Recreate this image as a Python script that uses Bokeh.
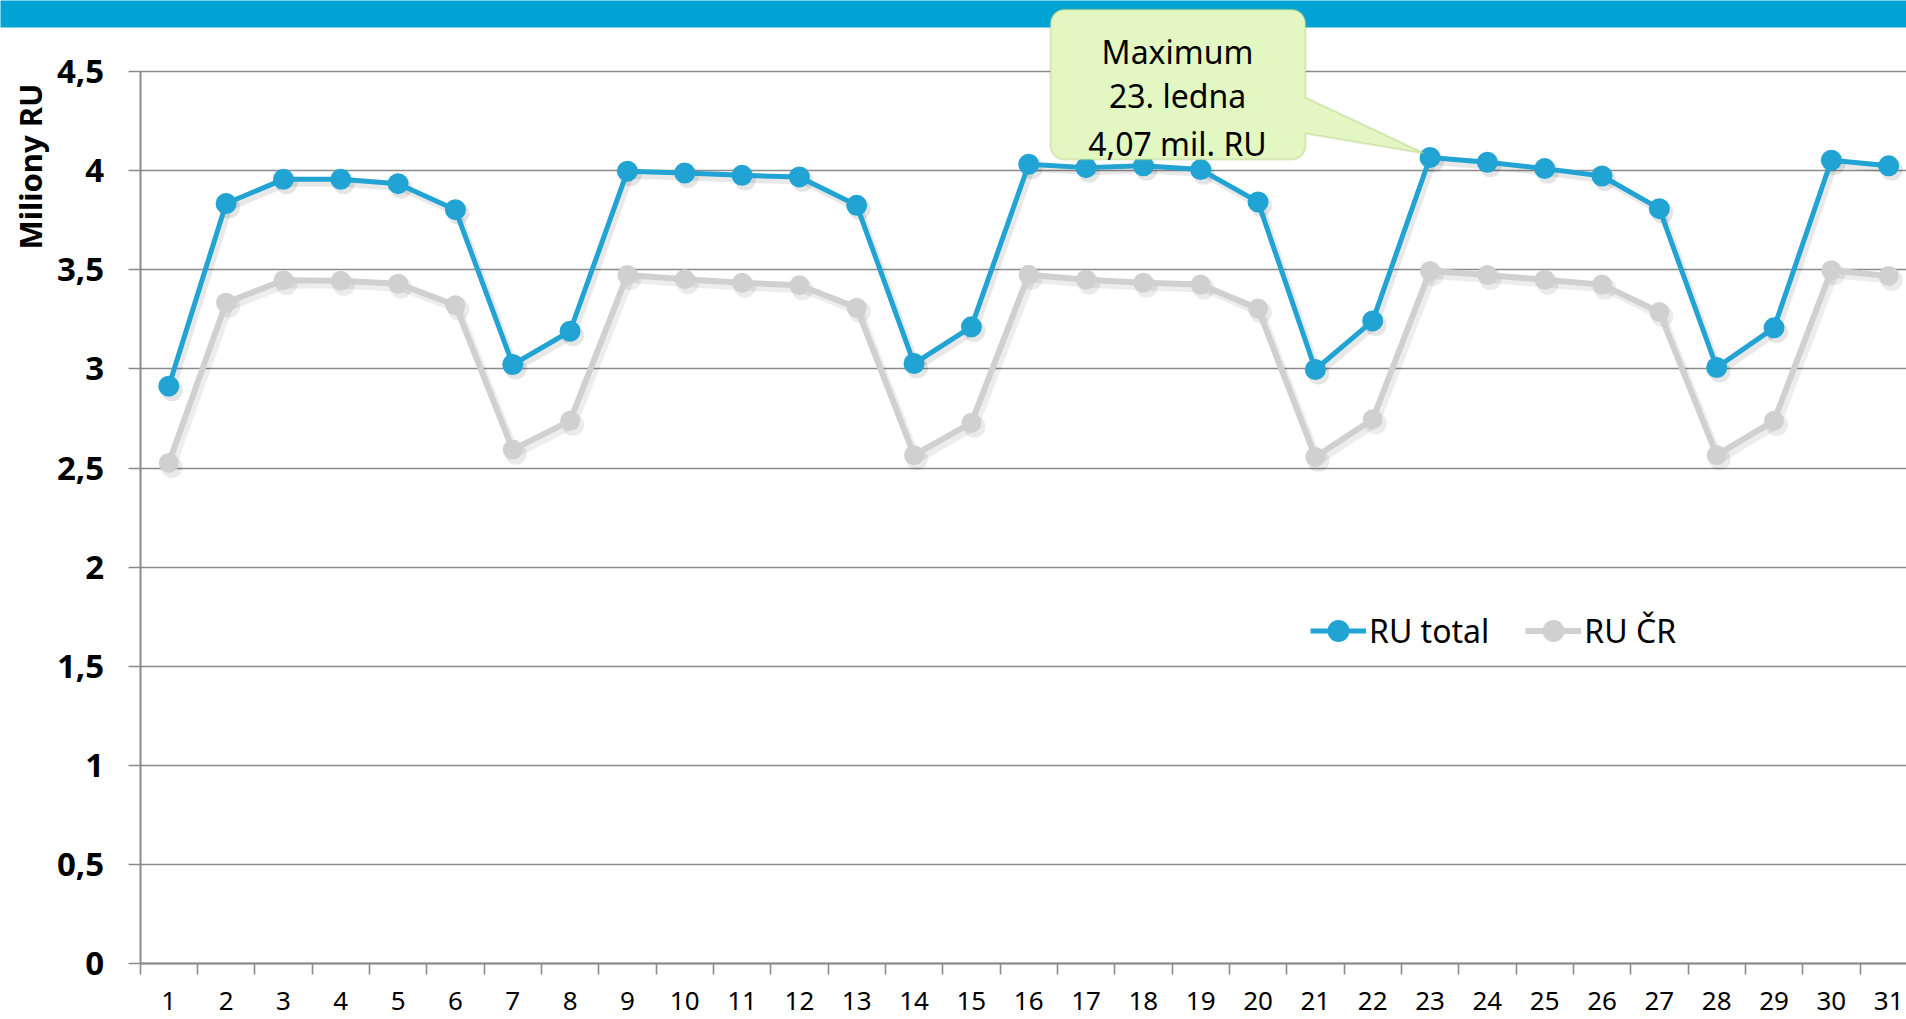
import numpy as np
from bokeh.plotting import figure
from bokeh.models import (FixedTicker, Range1d, BoxAnnotation, PolyAnnotation,
                          Label, Legend, LegendItem)
from bokeh.embed import file_html
from bokeh.resources import INLINE

# ---------------- data ----------------
days = list(range(1, 32))
ru_total = [2.913, 3.834, 3.956, 3.956, 3.934, 3.803, 3.022, 3.190, 3.997, 3.988,
            3.976, 3.968, 3.825, 3.027, 3.212, 4.032, 4.015, 4.024, 4.005, 3.842,
            2.997, 3.242, 4.066, 4.042, 4.010, 3.973, 3.808, 3.007, 3.207, 4.052, 4.024]
ru_cr = [2.526, 3.334, 3.447, 3.444, 3.430, 3.321, 2.593, 2.738, 3.474, 3.452,
         3.434, 3.422, 3.309, 2.565, 2.728, 3.475, 3.450, 3.435, 3.425, 3.304,
         2.556, 2.746, 3.494, 3.473, 3.450, 3.425, 3.287, 2.565, 2.738, 3.497, 3.469]
series_names = ["RU total", "RU ČR"]
y_ticks = [0, 0.5, 1, 1.5, 2, 2.5, 3, 3.5, 4, 4.5]
y_tick_labels = ["0", "0,5", "1", "1,5", "2", "2,5", "3", "3,5", "4", "4,5"]
y_title = "Miliony RU"

# ---------------- geometry (canvas px) ----------------
W, H = 1906, 1019
AXIS_X_PX = 139.6          # canvas x of the y axis (x = 0.5)
PX_PER_UNIT_X = 57.33
ZERO_PX = 963.3            # canvas y of value 0
PX_PER_UNIT_Y = 198.3
X0 = 0.5 - AXIS_X_PX / PX_PER_UNIT_X
X1 = 0.5 + (W - AXIS_X_PX) / PX_PER_UNIT_X
Y1 = ZERO_PX / PX_PER_UNIT_Y
Y0 = -(H - ZERO_PX) / PX_PER_UNIT_Y


def dx(px):
    return X0 + px / W * (X1 - X0)


def dy(py):
    return Y1 - py / H * (Y1 - Y0)


ux = (X1 - X0) / W
uy = (Y1 - Y0) / H

BLUE = "#21A3D3"
GREY = "#D0D0D0"
GRID = "#8A8A8A"
FONT = "Noto Sans"

p = figure(width=W, height=H, output_backend="svg", toolbar_location=None,
           x_range=Range1d(X0, X1), y_range=Range1d(Y0, Y1),
           min_border_left=0, min_border_right=0, min_border_top=0,
           min_border_bottom=0, outline_line_color=None,
           background_fill_color="white", border_fill_color="white")

# grid
p.xgrid.visible = False
p.ygrid.ticker = FixedTicker(ticks=y_ticks)
p.ygrid.grid_line_color = GRID
p.ygrid.grid_line_width = 1.6
p.ygrid.cross_bounds = (0.5, X1 + 1)

# x axis
xa = p.xaxis[0]
xa.fixed_location = 0
xa.bounds = (0.5, X1 + 1)
xa.ticker = FixedTicker(ticks=days, minor_ticks=[d - 0.5 for d in days] + [days[-1] + 0.5])
xa.major_tick_out = 0
xa.major_tick_in = 0
xa.minor_tick_out = 11
xa.minor_tick_in = 0
xa.minor_tick_line_color = GRID
xa.minor_tick_line_width = 1.6
xa.axis_line_color = GRID
xa.axis_line_width = 2
xa.major_label_text_font = FONT
xa.major_label_text_font_size = "26px"
xa.major_label_text_color = "black"
xa.major_label_standoff = 17

# y axis
ya = p.yaxis[0]
ya.fixed_location = 0.5
ya.ticker = FixedTicker(ticks=y_ticks, minor_ticks=[])
ya.bounds = (0, 4.5)
ya.major_label_overrides = {t: l for t, l in zip(y_ticks, y_tick_labels)}
ya.major_tick_out = 12
ya.major_tick_in = 0
ya.major_tick_line_color = GRID
ya.major_tick_line_width = 1.6
ya.axis_line_color = GRID
ya.axis_line_width = 2
ya.major_label_text_font = FONT
ya.major_label_text_font_style = "bold"
ya.major_label_text_font_size = "33px"
ya.major_label_text_color = "black"
ya.major_label_standoff = 24

# banner
p.add_layout(BoxAnnotation(left=X0 - 1, right=X1 + 1, bottom=dy(27), top=Y1 + 1,
                           fill_color="#00A3D4", fill_alpha=1, line_color=None,
                           level="underlay"))

# shadows + series
sx, sy = 3 * ux, -4 * uy
shx = [d + sx for d in days]
p.line(shx, [v + sy for v in ru_cr], line_color="black", line_alpha=0.07, line_width=8)
p.scatter(shx, [v + sy for v in ru_cr], size=22, fill_color="black", fill_alpha=0.08, line_color=None)
r_cr_l = p.line(days, ru_cr, line_color=GREY, line_width=6)
r_cr_s = p.scatter(days, ru_cr, size=20, fill_color=GREY, line_color=None)

p.line(shx, [v + sy for v in ru_total], line_color="black", line_alpha=0.09, line_width=7)
p.scatter(shx, [v + sy for v in ru_total], size=22, fill_color="black", fill_alpha=0.10, line_color=None)
r_t_l = p.line(days, ru_total, line_color=BLUE, line_width=5)
r_t_s = p.scatter(days, ru_total, size=21, fill_color=BLUE, line_color=None)

GH = 55
legend = Legend(items=[LegendItem(label=series_names[0], renderers=[r_t_l, r_t_s]),
                       LegendItem(label=series_names[1], renderers=[r_cr_l, r_cr_s])],
                orientation="horizontal", location=(1310, H - (630 + GH / 2)),
                label_text_font=FONT, label_text_font_size="32px", label_text_color="black",
                glyph_width=56, glyph_height=GH, label_standoff=3, spacing=36,
                padding=0, margin=0, background_fill_alpha=0, border_line_alpha=0)
p.add_layout(legend, "center")

# y axis title
p.add_layout(Label(x=dx(29), y=dy(166), text=y_title, angle=np.pi / 2,
                   text_align="center", text_baseline="alphabetic",
                   text_font=FONT, text_font_style="bold", text_font_size="31px",
                   text_color="black"))

# callout for maximum
imax = int(np.argmax(ru_total))
L, R, T, B, r = 1050, 1305, 9, 159, 14
tip = (1424, 153)
pts = []


def arc(cx, cy, a0, a1):
    for t in np.linspace(np.radians(a0), np.radians(a1), 9):
        pts.append((cx + r * np.cos(t), cy + r * np.sin(t)))


arc(L + r, T + r, 180, 270)
arc(R - r, T + r, 270, 360)
pts += [(R, 97), tip, (R, 133)]
arc(R - r, B - r, 0, 90)
arc(L + r, B - r, 90, 180)
p.add_layout(PolyAnnotation(xs=[dx(a) for a, b in pts], ys=[dy(b) for a, b in pts],
                            fill_color="#E3F7C3", fill_alpha=1, line_color="#9BBB59",
                            line_width=2))
lines = ["Maximum", f"{days[imax]}. ledna",
         f"{ru_total[imax]:.2f}".replace(".", ",") + " mil. RU"]
for txt, base in zip(lines, [51, 95, 143]):
    p.add_layout(Label(x=dx(1177), y=dy(base), text=txt, text_align="center",
                       text_baseline="alphabetic", text_font=FONT,
                       text_font_size="32px", text_color="black"))

open("out.html", "w").write(file_html(p, INLINE))
